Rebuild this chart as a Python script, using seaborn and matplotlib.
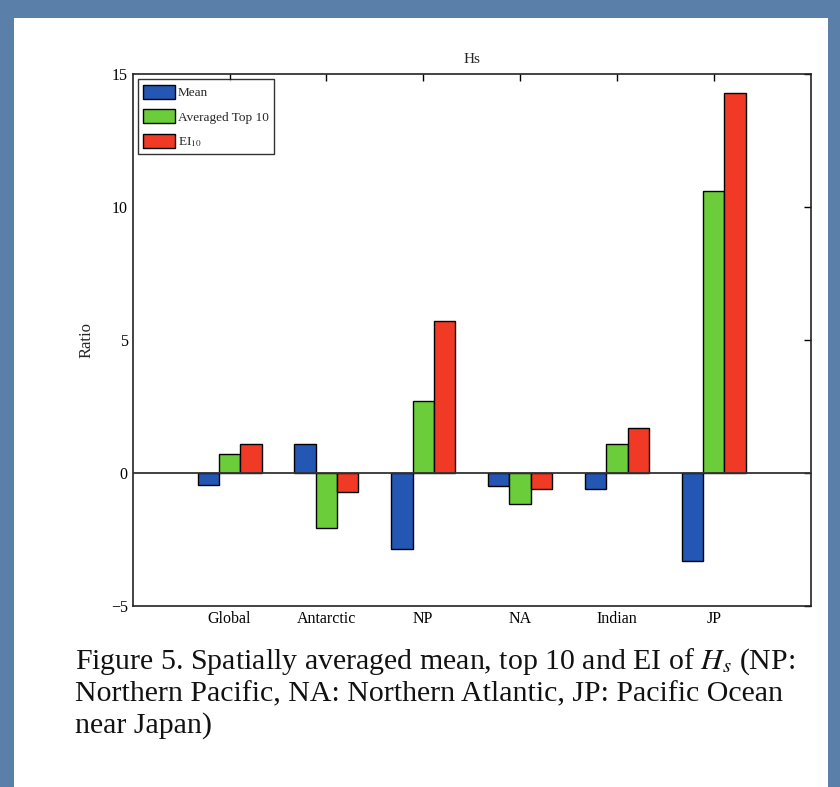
import matplotlib
matplotlib.use("Agg")
import matplotlib.pyplot as plt
from matplotlib.patches import Rectangle
import seaborn as sns
import pandas as pd

regions = ["Global", "Antarctic", "NP", "NA", "Indian", "JP"]
mean_vals = [-0.45, 1.1, -2.85, -0.5, -0.6, -3.3]
top10_vals = [0.7, -2.05, 2.7, -1.15, 1.1, 10.6]
ei10_vals = [1.1, -0.7, 5.7, -0.6, 1.7, 14.3]
series_names = ["Mean", "Averaged Top 10", "EI$_{10}$"]
colors = ["#2456b4", "#6ccd3a", "#f03a26"]

rows = []
for name, vals in zip(series_names, [mean_vals, top10_vals, ei10_vals]):
    for reg, v in zip(regions, vals):
        rows.append({"Region": reg, "Series": name, "Value": v})
df = pd.DataFrame(rows)

sns.set_style("white")
plt.rcParams['font.family'] = ['Liberation Serif', 'DejaVu Serif']
plt.rcParams['mathtext.fontset'] = 'stix'

fig = plt.figure(figsize=(8.4, 7.87), dpi=100)
fig.patch.set_facecolor("#5a7fa8")
# white page panel on the slide background
fig.patches.append(Rectangle((14 / 840, 0), (828 - 14) / 840, 1 - 18 / 787,
                             transform=fig.transFigure, facecolor="white",
                             edgecolor="none", zorder=-5))

ax = fig.add_axes([0.158, 0.230, 0.807, 0.676])
ax.set_zorder(2)
sns.barplot(data=df, x="Region", y="Value", hue="Series", palette=colors,
            width=0.66, edgecolor="black", linewidth=1, ax=ax, errorbar=None,
            saturation=1)

ax.axhline(0, color="#333333", lw=1.3, zorder=5)
ax.set_xlim(-1, 6)
ax.set_ylim(-5, 15)
ax.set_yticks([-5, 0, 5, 10, 15])
ax.set_xlabel("")
ax.set_ylabel("Ratio", fontsize=12, labelpad=12)
ax.set_title("Hs", fontsize=11, pad=8)
ax.tick_params(direction="in", length=5, width=1, top=True, right=True,
               labelsize=11.5, colors="black")
for s in ax.spines.values():
    s.set_visible(True)
    s.set_color("#222222")
    s.set_linewidth(1.2)

leg = ax.legend(loc="upper left", fontsize=9.5, frameon=True, fancybox=False,
                edgecolor="black", borderpad=0.4, labelspacing=0.75,
                handlelength=2.4, handleheight=1.3, handletextpad=0.2,
                borderaxespad=0.4)
leg.get_frame().set_linewidth(1)

cap = ["Figure 5. Spatially averaged mean, top 10 and EI of $H_s$ (NP:",
       "Northern Pacific, NA: Northern Atlantic, JP: Pacific Ocean",
       "near Japan)"]
for i, line in enumerate(cap):
    fig.text(75 / 840, 1 - (662 + i * 32) / 787, line, fontsize=21.5,
             ha="left", va="center", color="#111111")

fig.savefig("out.png", dpi=100, facecolor=fig.get_facecolor())
